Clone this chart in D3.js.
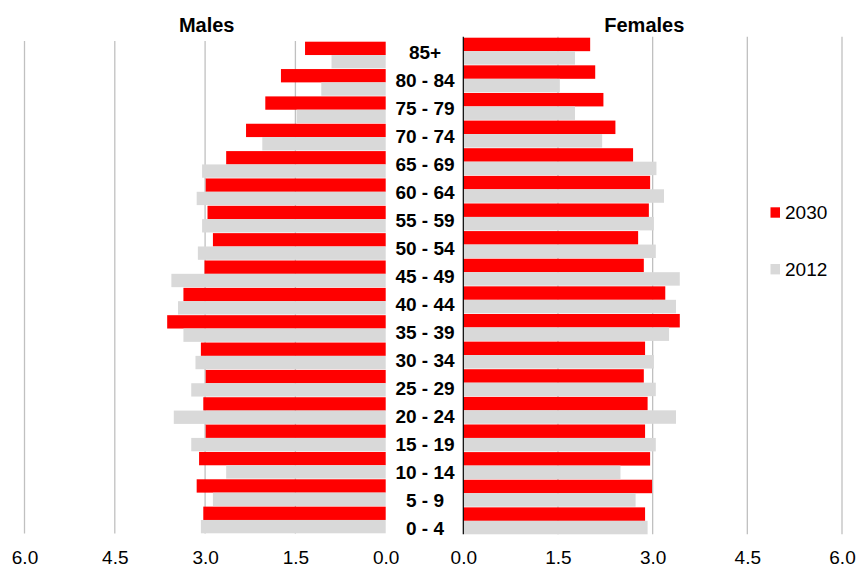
<!DOCTYPE html>
<html>
<head>
<meta charset="utf-8">
<script src="https://cdn.jsdelivr.net/npm/d3@7"></script>
<style>
  html, body { margin: 0; padding: 0; background: #fff; }
  svg { display: block; font-family: "Liberation Sans", Arial, sans-serif; }
</style>
</head>
<body>
<svg id="chart" width="856" height="568"></svg>
<script>
// Age groups, oldest at the top
const ageGroups = ["85+", "80 - 84", "75 - 79", "70 - 74", "65 - 69", "60 - 64", "55 - 59",
  "50 - 54", "45 - 49", "40 - 44", "35 - 39", "30 - 34", "25 - 29", "20 - 24",
  "15 - 19", "10 - 14", "5 - 9", "0 - 4"];

// Share of population (%) per age group, same order as ageGroups
const males2030   = [1.34, 1.74, 2.00, 2.32, 2.65, 2.99, 2.96, 2.87, 3.01, 3.36, 3.63, 3.07, 2.99, 3.03, 2.99, 3.10, 3.14, 3.03];
const males2012   = [0.90, 1.07, 1.48, 2.05, 3.05, 3.14, 3.05, 3.12, 3.56, 3.45, 3.36, 3.16, 3.23, 3.52, 3.23, 2.65, 2.87, 3.07];
const females2030 = [2.01, 2.09, 2.22, 2.41, 2.69, 2.96, 2.94, 2.77, 2.86, 3.20, 3.43, 2.88, 2.86, 2.92, 2.88, 2.96, 2.99, 2.88];
const females2012 = [1.77, 1.53, 1.77, 2.20, 3.06, 3.18, 3.02, 3.05, 3.43, 3.37, 3.26, 3.02, 3.05, 3.37, 3.05, 2.49, 2.73, 2.92];

const tickValues = [0, 1.5, 3.0, 4.5, 6.0];
const seriesNames = ["2030", "2012"];
const colors = { "2030": "#ff0000", "2012": "#d9d9d9" };

const svg = d3.select("#chart");

// Horizontal scales: males grow leftwards, females rightwards
const xL = d3.scaleLinear().domain([0, 6]).range([385.7, 24.5]);
const xR = d3.scaleLinear().domain([0, 6]).range([463.3, 842]);

// Vertical bands per panel
const yL = d3.scaleBand().domain(ageGroups).range([41.7, 533.3]).paddingInner(0.025).paddingOuter(0);
const yR = d3.scaleBand().domain(ageGroups).range([37.7, 534.3]).paddingInner(0.025).paddingOuter(0);
const yLabel = d3.scalePoint().domain(ageGroups).range([52.5, 528]);

// Gridlines
svg.append("g").selectAll("line")
  .data(tickValues.filter(v => v > 0))
  .join("line")
  .attr("x1", d => xL(d)).attr("x2", d => xL(d))
  .attr("y1", 41).attr("y2", 533.5)
  .attr("stroke", "#c0c0c0").attr("stroke-width", 1.3);

svg.append("g").selectAll("line")
  .data(tickValues.filter(v => v > 0))
  .join("line")
  .attr("x1", d => xR(d)).attr("x2", d => xR(d))
  .attr("y1", 36.7).attr("y2", 534.3)
  .attr("stroke", "#c0c0c0").attr("stroke-width", 1.3);

// Bars
function drawPanel(x, y, s2030, s2012, leftward) {
  const g = svg.append("g");
  const half = y.bandwidth() / 2;
  const rows = ageGroups.map((a, i) => ({ age: a, v2030: s2030[i], v2012: s2012[i] }));
  [["2030", 0], ["2012", 1]].forEach(([key, k]) => {
    g.append("g").selectAll("rect")
      .data(rows)
      .join("rect")
      .attr("x", d => leftward ? x(d["v" + key]) : x(0))
      .attr("width", d => Math.abs(x(d["v" + key]) - x(0)))
      .attr("y", d => y(d.age) + k * half)
      .attr("height", half)
      .attr("fill", colors[key]);
  });
}
drawPanel(xL, yL, males2030, males2012, true);
drawPanel(xR, yR, females2030, females2012, false);

// Female panel vertical axis line
svg.append("line")
  .attr("x1", xR(0)).attr("x2", xR(0))
  .attr("y1", 36.7).attr("y2", 534.3)
  .attr("stroke", "#000").attr("stroke-width", 1.2);

// Age labels between the panels
svg.append("g").selectAll("text")
  .data(ageGroups)
  .join("text")
  .attr("x", 425)
  .attr("y", d => yLabel(d))
  .attr("dy", "0.35em")
  .attr("text-anchor", "middle")
  .attr("font-size", 19)
  .attr("font-weight", "bold")
  .attr("fill", "#000")
  .text(d => d);

// Bottom axes
function bottomAxis(scale) {
  const g = svg.append("g")
    .attr("transform", "translate(0,550)")
    .call(d3.axisBottom(scale).tickValues(tickValues).tickFormat(d3.format(".1f")).tickSize(0).tickPadding(0));
  g.select(".domain").remove();
  g.selectAll("text")
    .attr("font-size", 19)
    .attr("font-family", "Liberation Sans, Arial, sans-serif")
    .attr("fill", "#000");
}
bottomAxis(xL);
bottomAxis(xR);

// Panel titles
svg.append("text").attr("x", 206.7).attr("y", 31.5).attr("text-anchor", "middle")
  .attr("font-size", 20).attr("font-weight", "bold").text("Males");
svg.append("text").attr("x", 644.3).attr("y", 31.7).attr("text-anchor", "middle")
  .attr("font-size", 20).attr("font-weight", "bold").text("Females");

// Legend
const legend = svg.append("g").selectAll("g")
  .data(seriesNames)
  .join("g")
  .attr("transform", (d, i) => `translate(770.5,${212.5 + i * 56.7})`);
legend.append("rect").attr("x", 0).attr("y", -5.2).attr("width", 9.5).attr("height", 10.4)
  .attr("fill", d => colors[d]);
legend.append("text").attr("x", 14.5).attr("y", 0).attr("dy", "0.35em")
  .attr("font-size", 19).attr("fill", "#000").text(d => d);
</script>
</body>
</html>
